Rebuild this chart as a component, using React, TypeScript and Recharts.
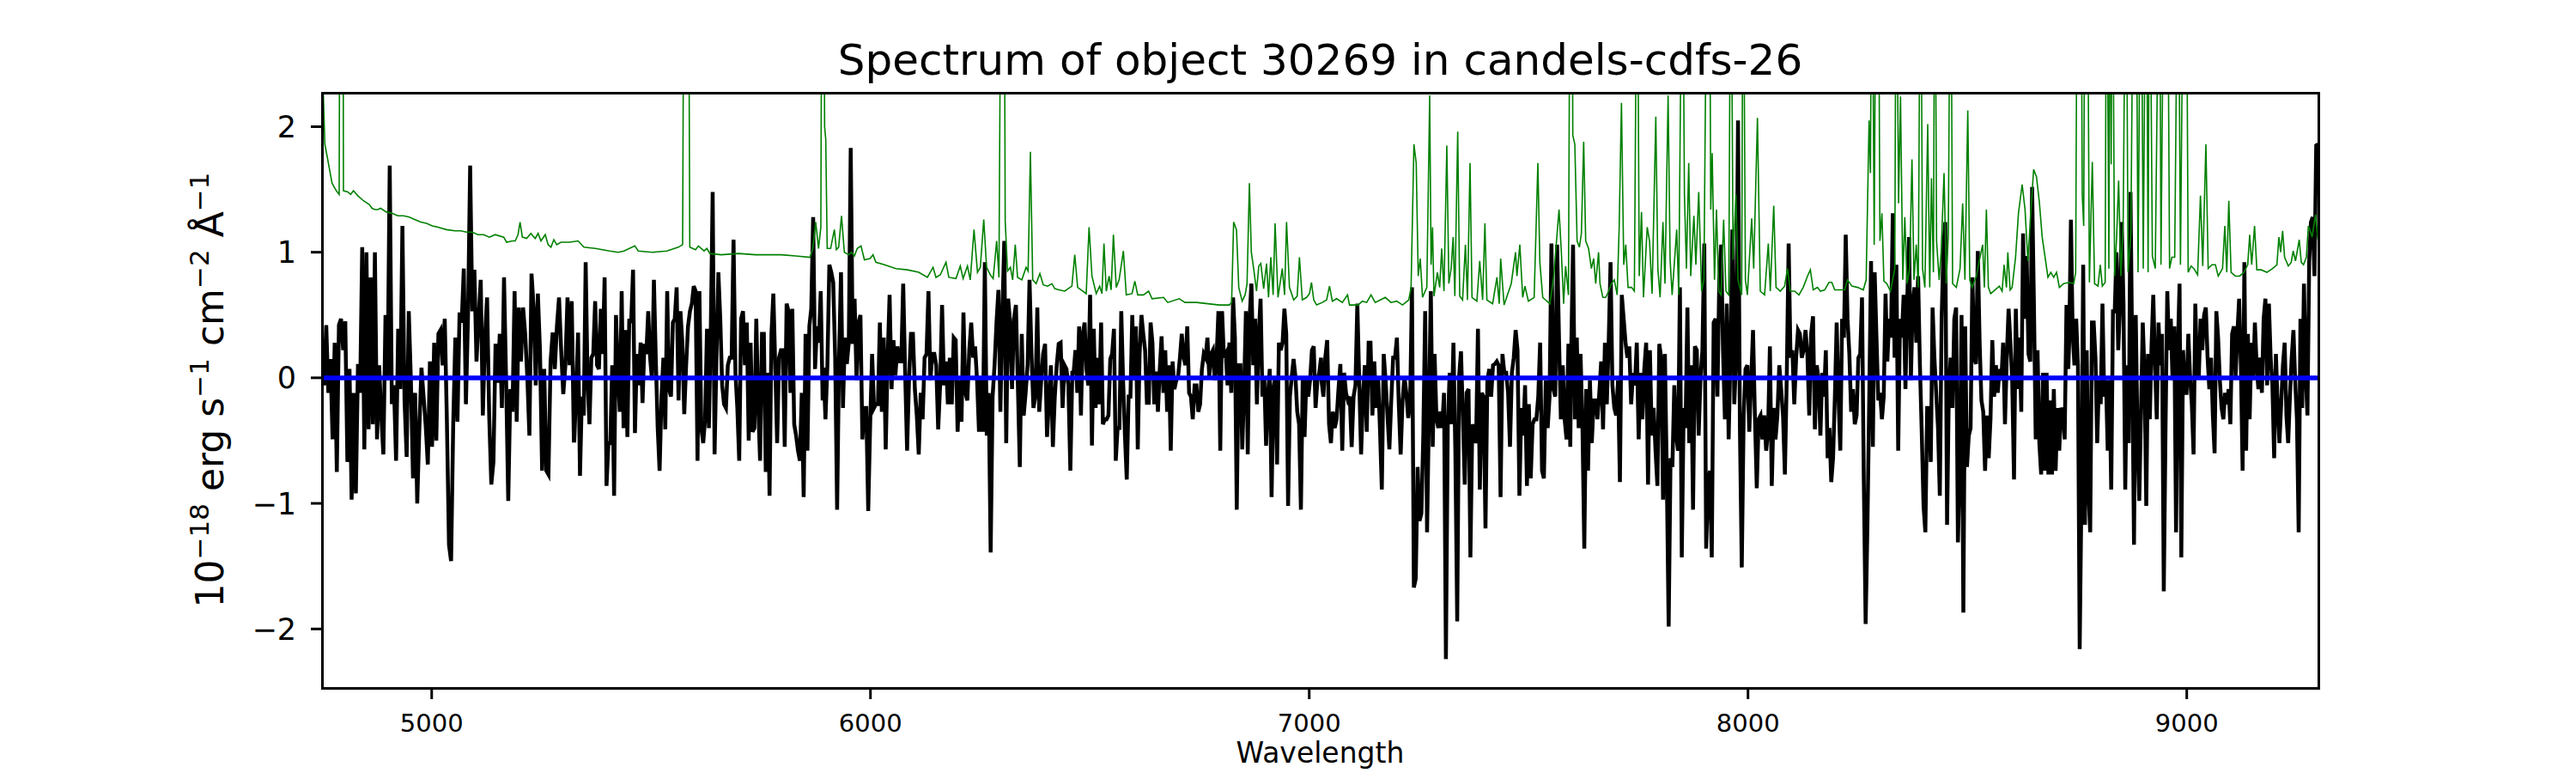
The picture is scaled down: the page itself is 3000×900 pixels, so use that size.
import React from 'react';
import { LineChart, Line, XAxis, YAxis } from 'recharts';

// ---------- data ----------
const xTicks = [5000, 6000, 7000, 8000, 9000];
const yTicks = [-2, -1, 0, 1, 2];
const xDomain = [4750, 9300];
const yDomain = [-2.47, 2.27];

// black: observed flux, read in 8 consecutive wavelength segments
const flux4750 = [0.19,-0.06,0.42,-0.12,0.15,-0.49,0.28,-0.75,0.42,0.47,0.22,0.45,-0.67,0.07,-0.97,-0.12,-0.92,0.11,-0.12,1.04,-0.57,1.0,-0.41,0.8,-0.37,1.0,-0.49,0.1,-0.3,-0.61,0.5,-0.02,1.69,-0.21,-0.06,-0.66,0.39,-0.09,1.21,-0.18,-0.63,0.53,-0.02,-0.8,-0.12,-1.0,-0.4,0.08,-0.15,-0.38,-0.69,0.13,-0.55,0.28,-0.5,0.35,0.38,0.1,0.47,-0.33,-1.33,-1.46,-0.37,0.32,-0.35,0.52,0.44,0.87,-0.21,0.5,1.69,0.53,0.86,0.13,0.47,0.78,-0.3,0.32,0.64,-0.3,-0.85,-0.67,0.27,-0.04,0.35,-0.24,0.8,-0.02,-0.98,-0.09,-0.27,0.69,-0.35,0.56,0.13,0.56,0.35,0.01,-0.46,0.83,0.56,-0.06,0.67,0.22,-0.74,0.07,-0.74,-0.77,0.13,0.36,0.07,0.41,0.64,0.22,-0.13,0.1,0.64,0.1,0.61,-0.5];
const flux5325 = [-0.5,-0.09,0.36,-0.78,-0.15,-0.3,0.92,-0.02,-0.37,0.16,0.19,0.61,0.1,0.07,0.55,0.19,0.8,-0.86,-0.52,-0.52,0.1,-0.94,0.5,0.05,-0.27,0.69,-0.4,0.38,-0.47,0.47,0.44,0.86,-0.44,0.19,-0.06,0.28,-0.2,0.27,0.19,0.53,0.16,-0.02,0.78,0.15,-0.4,-0.74,-0.15,0.16,-0.41,0.69,-0.09,-0.15,0.44,0.47,0.72,-0.18,0.53,0.28,-0.29,0.1,0.41,0.53,0.59,0.73,0.69,-0.66,0.69,-0.4,-0.52,-0.33,0.39,-0.4,0.38,1.48,-0.61,0.16,0.84,0.47,-0.06,-0.21,-0.24,0.1,0.16,0.16,1.1,0.04,-0.24,-0.66,0.47,0.53,0.1,0.44,-0.5,0.28,-0.43,-0.4,0.47,-0.21,-0.66,0.35,0.35,-0.75,0.04,-0.94,0.35,0.67,0.1,-0.52,0.16,0.22,0.22,-0.55,0.59,0.53,-0.12,0.55,-0.37,-0.46,-0.58,-0.66,-0.12,-0.95,0.35,-0.58,0.41,0.55,1.28,0.07,0.41,0.28,0.69,-0.18];
const flux5893 = [0.08,-0.33,0.1,0.9,0.84,0.76,0.16,-1.05,0.16,0.84,-0.24,0.32,0.11,0.28,1.83,0.27,0.63,-0.02,0.44,0.5,-0.49,-0.24,-0.24,-1.06,-0.37,0.19,-0.24,-0.21,-0.21,0.44,-0.27,0.32,-0.57,0.16,0.66,-0.09,0.3,0.02,0.25,0.13,0.13,0.75,0.04,-0.58,-0.01,0.35,0.35,-0.09,-0.3,-0.61,-0.12,-0.33,0.16,0.19,0.69,-0.02,0.19,0.19,0.1,-0.41,-0.06,0.58,-0.06,0.13,-0.21,0.16,-0.21,0.32,0.3,-0.43,-0.02,-0.35,0.52,-0.12,-0.18,0.22,0.44,0.16,0.25,-0.02,-0.43,0.01,-0.43,0.92,-0.46,-0.12,-1.39,-0.15,0.1,0.44,0.7,-0.27,0.5,1.09,-0.52,0.63,0.44,-0.09,0.47,0.58,-0.06,-0.71,0.35,-0.3,-0.12,0.1,0.78,0.19,-0.24,-0.15,0.56,-0.27,-0.02,0.19,0.27,-0.47,-0.18,0.1,-0.55,-0.15,0.1,0.27,0.28,-0.24,0.1,0.07,-0.06,-0.74,0.04];
const flux6463 = [0.04,0.22,-0.12,0.41,-0.3,0.35,0.44,0.07,-0.06,0.66,-0.54,0.39,-0.24,0.16,-0.21,0.44,-0.37,-0.33,-0.33,-0.3,0.15,0.19,0.39,-0.66,-0.4,-0.4,0.53,-0.02,-0.46,-0.81,-0.15,-0.15,0.5,-0.02,0.41,-0.57,0.19,0.5,0.35,0.22,-0.2,-0.2,0.44,0.28,-0.21,0.05,-0.27,0.07,0.33,-0.12,0.22,-0.27,0.1,-0.58,0.13,-0.09,-0.02,0.01,0.16,0.35,0.16,0.1,0.41,-0.12,-0.15,-0.33,-0.06,-0.06,-0.27,-0.21,0.07,0.19,0.16,0.32,0.01,0.19,0.22,-0.02,0.16,0.53,-0.58,0.53,0.16,0.19,-0.06,0.28,-0.12,0.64,0.32,-1.05,0.1,0.1,-0.57,-0.09,0.53,-0.61,0.47,0.75,0.1,0.47,-0.21,0.35,0.63,-0.15,0.01,-0.54,-0.15,0.07,-0.95,-0.09,0.01,-0.69,0.28,0.22,0.28,0.55,0.35,-1.02,-0.15,0.01,0.15,0.01,-0.27,-0.37,-1.05,0.01,-0.47,0.01,-0.15,-0.02,0.22,0.25,-0.24,-0.02,0.04,0.16];
const flux7028 = [-0.02,-0.15,0.16,0.3,-0.37,-0.52,-0.27,-0.4,-0.33,-0.09,0.11,-0.58,0.04,-0.12,-0.18,-0.15,-0.55,-0.15,-0.06,0.59,-0.02,-0.61,-0.15,0.1,-0.43,0.28,0.28,-0.3,0.13,-0.24,0.01,-0.4,-0.89,0.19,-0.02,-0.3,-0.57,-0.18,0.16,0.16,0.32,-0.21,-0.61,-0.18,0.01,-0.12,-0.32,-0.21,0.72,-1.67,-1.6,-0.71,-1.14,-1.08,-0.46,0.53,-1.23,-0.27,0.69,-0.55,0.19,-0.33,-0.4,-0.27,-0.4,-0.12,-2.24,-0.37,0.04,-0.37,0.28,-0.58,-1.94,0.01,0.21,-0.3,-0.85,-0.12,-0.09,-1.43,-0.37,-0.43,-0.52,0.39,-0.89,-0.12,-0.15,-1.2,-0.02,0.07,-0.15,0.1,0.11,0.13,0.1,-0.95,0.19,0.04,0.04,-0.12,-0.55,0.04,0.16,0.38,0.22,-0.94,-0.24,-0.46,-0.06,-0.86,-0.21,-0.8,-0.37,-0.33,-0.33,-0.15,0.28,-0.74,-0.8,-0.02,-0.4,-0.15,1.07,-0.09,-0.15,1.06,0.32,-0.33,0.1,-0.33,-0.49,0.27,-0.55];
const flux7597 = [0.19,1.06,-0.33,0.32,-0.4,0.19,-0.37,-1.36,-0.09,-0.74,-0.02,-0.52,-0.18,-0.18,-0.33,-0.12,0.13,-0.41,0.28,-0.21,0.28,0.92,-0.06,-0.24,-0.3,-0.02,-0.83,0.66,0.47,0.28,0.16,0.25,-0.21,0.04,-0.06,0.28,-0.49,0.04,-0.33,0.07,0.28,-0.85,0.22,-0.46,-0.24,-0.58,-0.86,0.27,0.16,-0.97,0.19,-0.77,-1.98,-0.64,-0.71,-0.06,-0.46,-0.58,0.72,-1.43,-0.24,-0.4,0.56,-0.52,0.1,-1.05,0.25,0.22,-0.46,0.01,0.22,1.07,-1.36,-0.86,-0.74,-1.43,0.44,0.47,-0.15,0.78,1.06,0.22,-0.33,0.59,-0.49,0.22,1.18,-0.21,0.16,2.05,-0.4,-1.51,-0.3,0.07,0.1,-0.43,-0.02,0.38,-0.3,-0.88,-0.33,-0.3,-0.49,-0.3,-0.58,-0.43,0.25,-0.86,-0.24,-0.49,-0.3,0.1,-0.09,-0.3,-0.77,0.01,1.07,0.16,0.22,-0.21,0.16,0.38,0.35,0.16,0.22,0.38,0.19,-0.3,0.35,0.49,-0.41,0.1,-0.02];
const flux8165 = [-0.46,0.04,-0.15,0.22,-0.64,-0.4,-0.83,-0.64,-0.15,0.44,-0.15,-0.58,0.47,0.32,1.14,0.47,0.19,-0.27,-0.09,-0.37,-0.3,0.16,0.19,0.64,-0.83,-1.96,-1.17,-0.15,0.93,-0.55,0.84,0.32,-0.18,-0.12,-0.33,-0.15,0.67,0.13,0.47,0.32,1.31,0.16,0.9,-0.58,0.47,0.32,0.66,-0.09,0.63,1.12,-0.02,0.59,0.72,0.28,0.81,0.1,-0.43,-1.02,-1.23,-0.24,-0.24,-0.67,0.56,0.16,-0.12,-0.4,-0.94,0.47,1.03,1.24,-1.17,-0.09,0.16,-0.24,0.47,0.56,-1.31,-0.71,0.5,-1.87,0.41,-0.71,-0.46,-0.4,0.8,0.16,0.11,1.01,0.28,-0.18,-0.27,-0.74,-0.3,-0.64,-0.33,0.3,-0.15,0.1,-0.12,0.07,-0.02,0.28,-0.37,0.16,0.55,0.28,-0.02,-0.81,0.55,-0.09,0.32,-0.27,1.15,0.47,0.97,0.19,0.13,1.52,0.59,-0.49,0.22,-0.52,-0.77,0.04,-0.74,0.04,-0.77,-0.18,-0.77,-0.09,-0.74,-0.24,-0.58,-0.24,-0.27,-0.49,0.58,0.07];
const flux8732 = [0.28,1.26,0.35,0.1,0.47,0.1,-2.16,-0.92,0.9,-1.17,0.22,-0.89,-1.23,0.44,0.44,0.16,-0.52,-0.02,-0.21,0.59,-0.15,-0.02,-0.58,-0.02,-0.89,0.53,0.53,1.0,0.22,0.56,1.24,0.59,-0.89,0.1,-0.52,1.48,0.16,-1.33,0.5,-0.46,-0.98,-0.27,0.44,0.04,-1.02,0.19,-0.33,0.25,0.66,0.1,-0.33,0.44,0.1,0.35,-1.7,-0.4,0.69,0.22,0.47,-0.02,0.41,-1.23,0.22,0.75,-1.43,0.22,-0.12,-0.12,0.35,0.01,-0.21,-0.61,0.59,0.04,0.01,0.47,0.22,0.5,0.56,0.16,-0.09,0.16,-0.3,-0.6,0.53,0.32,-0.02,-0.24,-0.33,-0.12,-0.21,-0.09,-0.37,0.35,0.41,0.01,0.35,0.63,0.1,-0.74,0.92,-0.58,0.35,-0.33,0.28,-0.02,0.44,0.1,-0.09,0.16,-0.12,0.47,0.63,-0.06,0.59,0.16,-0.06,-0.64,0.19,-0.21,-0.52,-0.21,0.1,0.28,-0.3,-0.52,-0.15,0.16,0.38,-0.02,-0.33,-1.23,0.47,-0.24,0.75,0.04,-0.3,0.93,1.24,1.28,0.81,1.85,1.86];

const fluxSegments = [
  { start: 4750, end: 5324, flux: flux4750 },
  { start: 5325, end: 5891, flux: flux5325 },
  { start: 5893, end: 6460, flux: flux5893 },
  { start: 6463, end: 7027, flux: flux6463 },
  { start: 7028, end: 7595, flux: flux7028 },
  { start: 7597, end: 8161, flux: flux7597 },
  { start: 8165, end: 8730, flux: flux8165 },
  { start: 8732, end: 9299, flux: flux8732 },
];

// green: noise spectrum, [wavelength, value]
const noisePoints: [number, number][] = [
  [4750,2.5],[4753,2.26],[4756.5,1.86],[4763,1.74],[4772.8,1.55],[4782.6,1.49],[4789.1,1.46],[4791.1,4],[4797.6,4],[4798.9,1.49],
  [4808.7,1.48],[4815.2,1.46],[4821.7,1.49],[4831.5,1.45],[4844.6,1.41],[4857.6,1.38],[4864.1,1.35],[4870.7,1.34],[4877.2,1.34],[4883.7,1.35],
  [4896.8,1.32],[4909.8,1.31],[4922.8,1.29],[4935.9,1.29],[4948.9,1.28],[4962,1.26],[4975,1.24],[4988.1,1.23],[5001.1,1.21],[5014.2,1.2],
  [5033.7,1.18],[5053.3,1.17],[5066.4,1.17],[5079.4,1.16],[5092.4,1.16],[5105.5,1.14],[5118.5,1.14],[5131.6,1.12],[5144.6,1.14],[5164.2,1.12],
  [5170.7,1.08],[5183.8,1.09],[5190.3,1.09],[5196.8,1.14],[5201.4,1.24],[5206.6,1.12],[5216.4,1.11],[5226.2,1.15],[5230.7,1.13],[5236,1.11],
  [5242.5,1.15],[5249,1.09],[5258.8,1.14],[5265.3,1.06],[5271.8,1.04],[5278.4,1.1],[5284.9,1.06],[5294.7,1.08],[5314.2,1.08],[5333.8,1.09],
  [5346.8,1.04],[5372.9,1.03],[5405.5,1.01],[5425.1,1.0],[5438.2,1.01],[5463,1.05],[5470.8,1.01],[5503.4,1.0],[5536,1.01],[5562.1,1.04],
  [5571.9,1.06],[5575.2,4],[5585,4],[5588.2,1.04],[5601.3,1.02],[5607.8,1.05],[5620.8,1.01],[5627.3,1.03],[5633.9,0.99],[5660,0.98],
  [5699.1,0.99],[5738.2,0.98],[5764.3,0.98],[5796.9,0.98],[5829.5,0.97],[5862.2,0.96],[5868.7,1.03],[5875.2,1.24],[5881.7,1.03],[5886.9,1.2],
  [5889.6,4],[5893.6,4],[5895.5,2.0],[5898.1,1.9],[5901.4,1.03],[5909.2,1.03],[5917.7,1.18],[5922.3,1.02],[5927.5,1.04],[5934,1.29],
  [5940.5,1.0],[5950.3,0.98],[5956.8,1.0],[5963.4,0.97],[5969.9,1.03],[5978.4,1.05],[5986.2,0.94],[5999.2,0.95],[6005.8,0.98],[6012.3,0.92],
  [6031.9,0.9],[6058,0.87],[6084,0.86],[6110.1,0.84],[6129.7,0.8],[6142.7,0.88],[6149.3,0.8],[6159.1,0.82],[6172.1,0.92],[6178.6,0.8],
  [6194.9,0.79],[6204.7,0.89],[6211.2,0.79],[6221,0.89],[6227.5,0.78],[6236,1.18],[6243.9,0.84],[6250.4,0.88],[6258.2,1.26],[6264.7,0.88],
  [6273.2,0.82],[6279.7,0.79],[6287.6,1.09],[6292.8,0.8],[6298,4],[6304.5,4],[6307.1,1.25],[6312.4,0.85],[6318.9,0.88],[6324.1,0.78],
  [6330,1.06],[6335.2,0.8],[6345,0.78],[6354.7,0.88],[6359.3,0.85],[6364.5,1.8],[6369.8,0.78],[6377.6,0.75],[6386.1,0.83],[6393.9,0.74],
  [6403.7,0.73],[6413.5,0.75],[6420,0.71],[6429.8,0.7],[6442.8,0.69],[6459.1,0.73],[6465.6,0.98],[6472.2,0.72],[6491.7,0.67],[6498.2,1.2],
  [6504.8,0.81],[6514.6,0.67],[6522.4,0.73],[6527.6,0.67],[6532.2,1.07],[6537.4,0.69],[6543.9,0.81],[6548.5,0.7],[6553.7,1.14],[6560.2,0.72],
  [6566.7,0.78],[6576.5,1.01],[6583,0.66],[6596.1,0.67],[6602.6,0.77],[6609.1,0.66],[6622.2,0.66],[6633.9,0.69],[6641.8,0.63],[6667.9,0.64],
  [6677.6,0.6],[6703.7,0.63],[6716.8,0.6],[6742.9,0.6],[6769,0.59],[6795,0.58],[6817.9,0.58],[6823.1,0.6],[6827.7,1.24],[6834.2,1.18],
  [6839.4,0.72],[6847.2,0.61],[6853.8,0.66],[6858.3,0.75],[6863.6,1.55],[6868.1,1.0],[6873.3,0.87],[6879.9,0.69],[6885.1,0.89],[6889.7,0.91],
  [6896.2,0.71],[6902.7,0.91],[6907.2,0.64],[6912.5,0.96],[6917.7,0.66],[6922.2,1.23],[6928.8,0.64],[6938.6,0.87],[6943.8,0.66],[6948.3,1.24],
  [6954.9,0.72],[6964.6,0.62],[6972.5,0.65],[6977.7,0.96],[6984.2,0.62],[6994,0.64],[7000.5,0.67],[7005.1,0.76],[7010.3,0.62],[7016.8,0.58],
  [7029.9,0.6],[7039.6,0.62],[7046.2,0.73],[7052.7,0.61],[7062.5,0.63],[7075.5,0.6],[7087.3,0.66],[7091.8,0.58],[7111.4,0.58],[7121.2,0.61],
  [7131,0.6],[7140.8,0.66],[7150.5,0.6],[7173.4,0.64],[7186.4,0.6],[7199.5,0.61],[7212.5,0.58],[7226.9,0.62],[7232.1,0.72],[7238.6,1.86],
  [7243.8,1.71],[7248.4,0.81],[7253,0.95],[7258.2,0.64],[7268,0.72],[7274.5,2.25],[7277.7,0.9],[7281,1.2],[7284.3,0.65],[7292.1,0.84],
  [7297.3,0.72],[7301.9,1.03],[7307.1,0.69],[7313.6,1.85],[7318.2,0.75],[7323.4,0.87],[7328,1.12],[7331.9,0.65],[7338.4,1.96],[7343,0.65],
  [7349.5,0.62],[7356,1.06],[7360.6,0.62],[7366.5,1.71],[7371,0.64],[7382.1,0.61],[7388.6,0.93],[7395.2,0.62],[7400.4,1.23],[7404.9,0.62],
  [7418,0.59],[7427.8,0.8],[7433,0.59],[7436.3,0.95],[7444.1,0.58],[7460.4,0.75],[7470.2,1.0],[7473.4,0.81],[7480,1.06],[7486.5,0.64],
  [7491.7,0.73],[7499.5,0.61],[7512.6,0.64],[7521.1,1.71],[7525.6,0.92],[7532.2,0.64],[7538.7,0.62],[7548.5,0.59],[7557,0.8],[7569.3,1.34],
  [7574.6,1.0],[7579.8,0.59],[7584.3,0.89],[7590.8,0.66],[7594.8,4],[7598.8,4],[7600.7,1.93],[7605.3,1.86],[7610.5,1.09],[7615.7,1.04],
  [7620.3,1.15],[7625.5,1.88],[7630.1,1.09],[7636.6,1.03],[7643.1,0.87],[7648.3,0.95],[7652.9,0.75],[7659.4,1.0],[7662.7,0.75],[7669.2,0.64],
  [7675.7,0.64],[7682.3,0.69],[7688.8,0.75],[7695.3,0.78],[7701.8,0.66],[7706.4,1.2],[7711.6,2.19],[7716.8,0.9],[7721.4,1.06],[7726.6,0.72],
  [7734.5,0.72],[7741,0.69],[7747.5,4],[7752.1,0.81],[7757.3,1.32],[7761.8,0.64],[7770.3,1.2],[7775.6,1.09],[7781.4,0.67],[7789.9,2.08],
  [7794.5,0.87],[7799.7,0.64],[7806.2,1.24],[7810.8,0.75],[7817.9,2.25],[7822.5,0.94],[7827.1,0.66],[7837.5,1.18],[7842.1,0.66],[7850.6,4],
  [7855.1,1.46],[7859.7,0.87],[7864.9,1.71],[7869.5,0.81],[7876.7,1.29],[7881.2,0.9],[7887.7,1.48],[7894.3,0.69],[7899.5,0.78],[7907.3,4],
  [7911.9,4],[7915.1,1.34],[7918.4,1.79],[7923.6,0.78],[7928.2,1.34],[7933.4,0.69],[7938.6,0.66],[7944.5,1.26],[7949.7,0.69],[7956.2,0.66],
  [7960.8,4],[7966,0.94],[7972.5,1.46],[7977.1,0.78],[7985.6,0.66],[7988.9,4],[7994.1,0.78],[7998.6,0.66],[8008.4,1.27],[8013,0.87],
  [8021.5,2.07],[8028,0.69],[8037.8,0.66],[8046.3,1.07],[8050.8,0.69],[8058.7,1.37],[8063.9,0.72],[8073.7,0.69],[8083.4,0.73],[8090,0.87],
  [8096.5,0.69],[8106.3,0.69],[8116,0.66],[8125.8,0.72],[8135.6,0.81],[8142.1,0.86],[8148.7,0.7],[8158.4,0.72],[8165,0.69],[8174.8,0.7],
  [8184.5,0.76],[8191.1,0.76],[8197.6,0.7],[8220.4,0.7],[8226.9,0.78],[8236.7,0.73],[8249.8,0.72],[8262.8,0.7],[8269.3,0.78],[8275.9,2.05],
  [8279.1,1.63],[8282.4,4],[8287.6,1.06],[8292.2,4],[8296.7,4],[8300.7,1.09],[8305.2,1.31],[8309.8,0.77],[8316.3,0.75],[8324.8,0.69],
  [8334.6,0.87],[8337.8,4],[8343.1,1.39],[8347.6,2.24],[8352.8,0.78],[8357.4,1.28],[8362.6,0.75],[8368.5,0.87],[8373.7,1.74],[8378.3,0.78],
  [8383.5,1.06],[8388.1,0.72],[8393.3,4],[8397.8,0.87],[8403.1,0.72],[8409.6,2.02],[8414.2,0.72],[8418.1,1.59],[8422.6,0.84],[8425.9,4],
  [8429.8,1.09],[8435.7,0.78],[8440.2,1.0],[8446.8,1.63],[8452,0.75],[8456.6,1.15],[8461.8,4],[8466.3,0.75],[8474.8,0.72],[8483.3,0.87],
  [8489.2,1.39],[8494.4,0.78],[8500.9,2.13],[8505.5,0.78],[8510.7,0.72],[8520.5,0.81],[8527,0.93],[8534.8,1.06],[8538.7,0.72],[8543.3,1.34],
  [8547.9,0.72],[8553.1,0.67],[8562.9,0.7],[8572.7,0.73],[8579.2,0.69],[8583.7,0.9],[8589,0.72],[8592.2,1.0],[8597.4,0.7],[8602,0.72],
  [8609.8,0.96],[8616.4,1.31],[8624.8,1.54],[8631.4,1.34],[8637.9,0.93],[8644.4,1.31],[8651,1.66],[8657.5,1.6],[8664,1.4],[8670.5,1.12],
  [8677.1,0.96],[8683.6,0.8],[8690.1,0.84],[8696.7,0.8],[8703.2,0.84],[8709.7,0.72],[8719.4,0.75],[8732.5,0.76],[8742.3,0.75],[8746.8,0.84],
  [8750.7,4],[8758.6,4],[8761.8,1.46],[8765.1,1.21],[8768.3,4],[8772.9,4],[8778.1,0.76],[8784.7,1.72],[8789.9,0.75],[8797.7,0.73],
  [8802.9,0.9],[8807.5,0.73],[8814,0.76],[8817.3,4],[8822.5,0.87],[8825.1,4],[8827.7,1.7],[8830.3,4],[8835.5,0.81],[8840.1,1.12],
  [8844.7,1.57],[8849.9,0.81],[8855.1,1.25],[8861.6,4],[8866.2,0.84],[8872.7,1.15],[8879.2,4],[8883.8,4],[8889,0.84],[8895.5,4],
  [8900.8,0.87],[8907.3,4],[8911.9,0.84],[8915.1,4],[8921.6,0.97],[8928.2,0.87],[8937.9,4],[8941.2,0.9],[8949,4],[8955.6,4],
  [8960.8,0.87],[8966,0.96],[8972.5,0.96],[8980.4,4],[8985.6,0.9],[8993.4,4],[8998.6,4],[9003.2,0.84],[9009.7,0.89],[9016.2,0.87],
  [9024.7,0.82],[9031.2,1.45],[9036.4,0.89],[9043.6,1.86],[9048.8,0.87],[9057.3,0.9],[9065.2,0.9],[9071.7,0.81],[9081.5,0.87],[9086.7,1.21],
  [9091.2,0.84],[9095.8,1.41],[9101,0.84],[9110.8,0.81],[9120.6,0.81],[9130.4,0.84],[9138.9,0.9],[9143.4,1.14],[9148,0.9],[9154.5,1.21],
  [9159.7,0.86],[9169.5,0.86],[9182.6,0.84],[9195.6,0.87],[9205.4,0.9],[9210,1.12],[9213.9,1.0],[9218.5,1.17],[9223,0.96],[9231.5,0.89],
  [9238,0.92],[9242.6,1.01],[9247.8,0.93],[9256.3,1.1],[9261,0.92],[9266.1,0.9],[9272.6,0.96],[9277.1,1.21],[9280.4,1.18],[9285.6,1.12],
  [9293.4,1.3],[9299,1.1],
];

// blue: continuum
const continuumWl = [4750, 9300];
const continuumFlux = [0, 0];

const titleText = 'Spectrum of object 30269 in candels-cdfs-26';
const xLabelText = 'Wavelength';

// ---------- derived tables ----------
const fluxData = fluxSegments.flatMap((seg) =>
  seg.flux.map((f, i) => ({
    wl: seg.start + (i * (seg.end - seg.start)) / (seg.flux.length - 1),
    v: f,
  }))
);
const noiseData = noisePoints.map(([wl, v]) => ({ wl, v }));
const continuumData = continuumWl.map((wl, i) => ({ wl, v: continuumFlux[i] }));

const FONT = 'DejaVu Sans, Verdana, sans-serif';
const fmtY = (v: number) => String(v).replace('-', '\u2212');

export default function App() {
  const W = 3000;
  const H = 900;
  const left = 375;
  const top = 108;
  const right = 2700;
  const bottom = 801;
  return (
    <div style={{ position: 'absolute', left: 0, top: 0, width: W, height: H, background: '#fff' }}>
      <LineChart
        width={W}
        height={H}
        margin={{ top: top, right: W - right, bottom: 39, left: left - 100 }}
      >
        <XAxis
          type="number"
          dataKey="wl"
          domain={xDomain}
          ticks={xTicks}
          interval={0}
          allowDataOverflow
          axisLine={false}
          tickSize={13}
          tickMargin={17}
          height={60}
          tickLine={{ stroke: '#000', strokeWidth: 3 }}
          tick={{ fontSize: 29, fill: '#000', fontFamily: FONT }}
        />
        <YAxis
          type="number"
          domain={yDomain}
          ticks={yTicks}
          interval={0}
          allowDataOverflow
          axisLine={false}
          tickSize={13}
          tickMargin={17}
          width={100}
          tickFormatter={fmtY}
          tickLine={{ stroke: '#000', strokeWidth: 3 }}
          tick={{ fontSize: 35, fill: '#000', fontFamily: FONT }}
        />
        <Line
          data={fluxData}
          dataKey="v"
          type="linear"
          stroke="#000000"
          strokeWidth={4.5}
          dot={false}
          activeDot={false}
          isAnimationActive={false}
        />
        <Line
          data={noiseData}
          dataKey="v"
          type="linear"
          stroke="#008000"
          strokeWidth={1.6}
          dot={false}
          activeDot={false}
          isAnimationActive={false}
        />
        <Line
          data={continuumData}
          dataKey="v"
          type="linear"
          stroke="#0000ff"
          strokeWidth={5.5}
          dot={false}
          activeDot={false}
          isAnimationActive={false}
        />
      </LineChart>
      <div
        style={{
          position: 'absolute',
          left: left - 1.5,
          top: top - 1.5,
          width: right - left + 3,
          height: bottom - top + 3,
          border: '3px solid #000',
          boxSizing: 'border-box',
          pointerEvents: 'none',
        }}
      />
      <svg
        width={W}
        height={H}
        style={{ position: 'absolute', left: 0, top: 0, pointerEvents: 'none' }}
      >
        <text x={1537.5} y={87} textAnchor="middle" fontFamily={FONT} fontSize={50} fill="#000">
          {titleText}
        </text>
        <text x={1537.5} y={888} textAnchor="middle" fontFamily={FONT} fontSize={33} fill="#000">
          {xLabelText}
        </text>
        <text
          transform="translate(260,454) rotate(-90)"
          textAnchor="middle"
          fontFamily={FONT}
          fontSize={44}
          fill="#000"
        >
          <tspan>10</tspan>
          <tspan fontSize={31} dy={-17}>{'\u221218'}</tspan>
          <tspan dy={17}>{' erg s'}</tspan>
          <tspan fontSize={31} dy={-17}>{'\u22121'}</tspan>
          <tspan dy={17}>{' cm'}</tspan>
          <tspan fontSize={31} dy={-17}>{'\u22122'}</tspan>
          <tspan dy={17}>{' \u00C5'}</tspan>
          <tspan fontSize={31} dy={-17}>{'\u22121'}</tspan>
        </text>
      </svg>
    </div>
  );
}
